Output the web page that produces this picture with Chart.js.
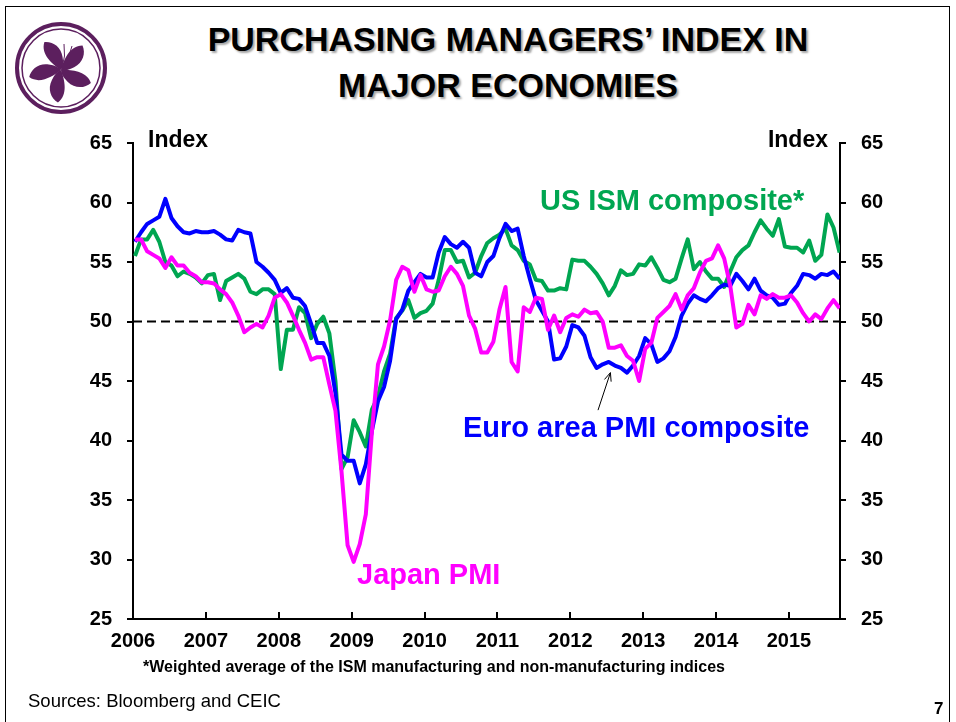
<!DOCTYPE html>
<html>
<head>
<meta charset="utf-8">
<script src="https://cdn.jsdelivr.net/npm/chart.js@4.4.0/dist/chart.umd.min.js"></script>
<style>
  html, body { margin: 0; padding: 0; background: #fff; }
  body { width: 956px; height: 722px; position: relative; overflow: hidden;
         font-family: Arial, "Liberation Sans", sans-serif; color: #000; }
  #frame { position: absolute; left: 5px; top: 6px; width: 943px; height: 740px;
           border-left: 1px solid #000; border-top: 1px solid #000; border-right: 1px solid #000; }
  #chart { position: absolute; left: 0; top: 0; }
  .t { position: absolute; white-space: nowrap; font-weight: bold; }
  #title { left: 0; width: 1016px; top: 16px; text-align: center; font-size: 34px; line-height: 46px;
           text-shadow: 2px 2px 2px rgba(0,0,0,0.35); }
  .idx { font-size: 23px; line-height: 23px; top: 128px; }
  .lab { font-size: 29px; line-height: 29px; }
  #note { left: 0; width: 868px; text-align: center; top: 659px; font-size: 16px; line-height: 16px; }
  #src { left: 28px; top: 692px; font-size: 18.5px; line-height: 18.5px; font-weight: normal; }
  #page { left: 934px; top: 700px; font-size: 17px; line-height: 17px; }
</style>
</head>
<body>
<div id="frame"></div>
<svg style="position:absolute;left:0;top:0" width="130" height="130">
  <circle cx="61" cy="68" r="44" fill="none" stroke="#5c1f5e" stroke-width="4"/>
  <circle cx="61" cy="68" r="39" fill="none" stroke="#5c1f5e" stroke-width="1.5"/>
  <g transform="translate(61,70)" fill="#5c1f5e">
    <path d="M0,0 C-6,-8 -14,-22 -6,-32 C2,-30 8,-22 6,-12 C5,-6 3,-2 0,0 Z" transform="rotate(-20)"/>
    <path d="M0,0 C-6,-8 -14,-22 -6,-32 C2,-30 8,-22 6,-12 C5,-6 3,-2 0,0 Z" transform="rotate(52)"/>
    <path d="M0,0 C-6,-8 -14,-22 -6,-32 C2,-30 8,-22 6,-12 C5,-6 3,-2 0,0 Z" transform="rotate(124)"/>
    <path d="M0,0 C-6,-8 -14,-22 -6,-32 C2,-30 8,-22 6,-12 C5,-6 3,-2 0,0 Z" transform="rotate(196)"/>
    <path d="M0,0 C-6,-8 -14,-22 -6,-32 C2,-30 8,-22 6,-12 C5,-6 3,-2 0,0 Z" transform="rotate(268)"/>
  </g>
  <g stroke="#5c1f5e" stroke-width="1" fill="none">
    <path d="M62,68 Q70,58 72,46"/><path d="M62,68 Q74,62 80,52"/><path d="M62,68 Q66,56 64,44"/>
  </g>
</svg>
<div id="title" class="t">PURCHASING MANAGERS’ INDEX IN<br>MAJOR ECONOMIES</div>
<canvas id="chart" width="956" height="722"></canvas>
<div class="t idx" style="left:148px">Index</div>
<div class="t idx" style="left:728px;width:100px;text-align:right">Index</div>
<div class="t lab" style="left:540px;top:186px;color:#00a651">US ISM composite*</div>
<div class="t lab" style="left:463px;top:413px;color:#0000ff">Euro area PMI composite</div>
<div class="t lab" style="left:357px;top:560px;color:#ff00ff">Japan PMI</div>
<div id="note" class="t">*Weighted average of the ISM manufacturing and non-manufacturing indices</div>
<div id="src" class="t">Sources: Bloomberg and CEIC</div>
<div id="page" class="t">7</div>
<script>
// monthly readings, Jan 2006 - Sep 2015
const years = [2006, 2007, 2008, 2009, 2010, 2011, 2012, 2013, 2014, 2015];
const yTicks = [25, 30, 35, 40, 45, 50, 55, 60, 65];

const euroPMI = [
  56.7, 57.5, 58.2, 58.5, 58.8, 60.3, 58.7, 58.0, 57.5, 57.4, 57.6, 57.5,
  57.5, 57.6, 57.3, 56.9, 56.8, 57.7, 57.5, 57.4, 55.0, 54.6, 54.1, 53.5,
  52.4, 52.8, 52.0, 51.9, 51.3, 49.8, 48.2, 48.2, 47.1, 44.0, 38.8, 38.3,
  38.3, 36.4, 38.0, 40.8, 43.3, 44.5, 46.7, 50.2, 51.0, 52.6, 53.3, 54.0,
  53.7, 53.7, 55.8, 57.1, 56.5, 56.2, 56.7, 56.2, 54.1, 53.8, 55.0, 55.5,
  57.0, 58.2, 57.6, 57.8, 55.5, 53.6, 51.8, 50.9, 50.0, 46.8, 46.9, 47.9,
  49.7, 49.5, 48.8, 47.0, 46.1, 46.4, 46.6, 46.3, 46.1, 45.7, 46.3, 47.1,
  48.6, 48.1, 46.6, 46.9, 47.5, 48.7, 50.5, 51.5, 52.2, 51.9, 51.7, 52.2,
  52.8, 53.1, 53.0, 54.0, 53.4, 52.7, 53.6, 52.6, 52.2, 52.0, 51.4, 51.5,
  52.4, 53.0, 54.0, 53.9, 53.6, 54.0, 53.9, 54.2, 53.6
];
const usISM = [
  55.5, 56.9, 56.9, 57.7, 56.7, 55.0, 54.7, 53.8, 54.2, 54.0, 53.7, 53.2,
  53.9, 54.0, 51.8, 53.4, 53.7, 54.0, 53.6, 52.5, 52.3, 52.7, 52.7, 52.3,
  46.0, 49.3, 49.3, 51.2, 50.7, 48.6, 49.8, 50.4, 49.0, 45.0, 37.6, 38.6,
  41.7, 40.7, 39.5, 42.6, 43.7, 45.8, 47.3, 50.3, 50.9, 51.8, 50.3, 50.7,
  50.9, 51.5, 53.5, 56.0, 56.0, 55.0, 55.1, 53.7, 54.1, 55.5, 56.6, 57.0,
  57.3, 57.8, 56.4, 56.0, 55.1, 54.8, 53.5, 53.4, 52.6, 52.6, 52.8, 52.7,
  55.2, 55.1, 55.1, 54.6, 54.0, 53.2, 52.2, 53.0, 54.3, 53.9, 54.0, 54.8,
  54.7, 55.4, 54.5, 53.5, 53.3, 53.6, 55.3, 56.9, 54.4, 55.0, 54.2, 53.6,
  53.6, 52.9, 54.2, 55.4, 56.0, 56.4, 57.5, 58.5, 57.8, 57.2, 58.6, 56.3,
  56.2, 56.2, 55.8, 56.8, 55.1, 55.6, 59.0, 57.9, 55.8
];
const japanPMI = [
  56.9, 56.9, 55.9, 55.6, 55.3, 54.5, 55.4, 54.7, 54.7, 54.1, 53.8, 53.3,
  53.3, 53.2, 52.7, 52.3, 51.6, 50.5, 49.1, 49.5, 49.8, 49.5, 50.5, 52.0,
  52.3, 51.6, 50.5, 49.3, 48.2, 46.8, 47.0, 47.0, 44.7, 42.5, 37.4, 31.2,
  29.8, 31.3, 33.8, 40.7, 46.4, 47.9, 50.1, 53.5, 54.6, 54.3, 52.5, 53.9,
  52.7, 52.5, 52.6, 53.8, 54.6, 54.0, 53.0, 50.5, 49.4, 47.4, 47.4, 48.3,
  51.0, 52.9, 46.6, 45.8, 51.2, 50.8, 52.0, 51.9, 49.3, 50.5, 49.1, 50.3,
  50.6, 50.4, 51.0, 50.7, 50.8, 50.0, 47.8, 47.8, 48.0, 47.1, 46.7, 45.0,
  47.7, 48.2, 50.3, 50.8, 51.3, 52.3, 51.0, 52.2, 52.8, 54.1, 55.1, 55.3,
  56.4, 55.3, 53.0, 49.5, 49.8, 51.4, 50.6, 52.2, 51.9, 52.3, 52.0, 52.0,
  52.2, 51.6, 50.7, 50.0, 50.6, 50.2, 51.1, 51.8, 51.1
];
const threshold = 50;

const xMin = 2006, xMax = 2015.7;
const monthX = i => xMin + (i + 0.33) / 12;
const toPoints = arr => arr.map((v, i) => ({ x: monthX(i), y: v }));

const lineSet = (label, data, color) => ({
  label: label, data: toPoints(data), borderColor: color, borderWidth: 4,
  pointRadius: 0, fill: false, tension: 0, borderJoinStyle: 'round', yAxisID: 'y'
});

const tickFont = { family: 'Arial, "Liberation Sans", sans-serif', size: 20, weight: 'bold' };

const yAxis = (pos, width) => ({
  type: 'linear', position: pos, min: 25, max: 65,
  afterBuildTicks: s => { s.ticks = yTicks.map(v => ({ value: v })); },
  afterFit: s => { s.width = width; },
  ticks: { font: tickFont, color: '#000', padding: 15 },
  grid: { drawOnChartArea: false, color: '#000', lineWidth: 2, tickLength: 6 },
  border: { display: true, color: '#000', width: 2 }
});

// inward year ticks and the arrow to the euro line
const extras = {
  id: 'extras',
  afterDatasetsDraw(chart) {
    const { ctx, chartArea, scales } = chart;
    const x = scales.x, y = scales.y;
    ctx.save();
    ctx.strokeStyle = '#000';
    ctx.lineWidth = 2;
    years.forEach(v => {
      const px = Math.round(x.getPixelForValue(v));
      ctx.beginPath();
      ctx.moveTo(px, chartArea.bottom);
      ctx.lineTo(px, chartArea.bottom - 7);
      ctx.stroke();
    });
    const x0 = x.getPixelForValue(2012.38), y0 = y.getPixelForValue(42.55);
    const x1 = x.getPixelForValue(2012.55), y1 = y.getPixelForValue(45.7);
    const a = Math.atan2(y1 - y0, x1 - x0);
    ctx.lineWidth = 1;
    ctx.beginPath();
    ctx.moveTo(x0, y0); ctx.lineTo(x1, y1);
    ctx.moveTo(x1 - 9 * Math.cos(a - 0.4), y1 - 9 * Math.sin(a - 0.4));
    ctx.lineTo(x1, y1);
    ctx.lineTo(x1 - 9 * Math.cos(a + 0.4), y1 - 9 * Math.sin(a + 0.4));
    ctx.stroke();
    ctx.restore();
  }
};

new Chart(document.getElementById('chart').getContext('2d'), {
  type: 'line',
  data: {
    datasets: [
      lineSet('Japan PMI', japanPMI, '#ff00ff'),
      lineSet('Euro area PMI composite', euroPMI, '#0000ff'),
      lineSet('US ISM composite*', usISM, '#00a651'),
      {
        label: '50', data: [{ x: xMin, y: threshold }, { x: xMax, y: threshold }],
        borderColor: '#000', borderWidth: 2, borderDash: [9, 5], pointRadius: 0, yAxisID: 'y'
      }
    ]
  },
  options: {
    responsive: false,
    animation: false,
    layout: { padding: { top: 143, left: 0, right: 0, bottom: 0 } },
    plugins: { legend: { display: false }, tooltip: { enabled: false } },
    scales: {
      x: {
        type: 'linear', min: xMin, max: xMax,
        afterBuildTicks: s => { s.ticks = years.map(v => ({ value: v })); },
        afterFit: s => { s.height = 103; },
        ticks: { font: tickFont, color: '#000', padding: 10, maxRotation: 0, autoSkip: false,
                 callback: v => String(v) },
        grid: { display: false, drawTicks: false },
        border: { display: true, color: '#000', width: 2 }
      },
      y: yAxis('left', 133),
      y2: yAxis('right', 116)
    }
  },
  plugins: [extras]
});
</script>
</body>
</html>
